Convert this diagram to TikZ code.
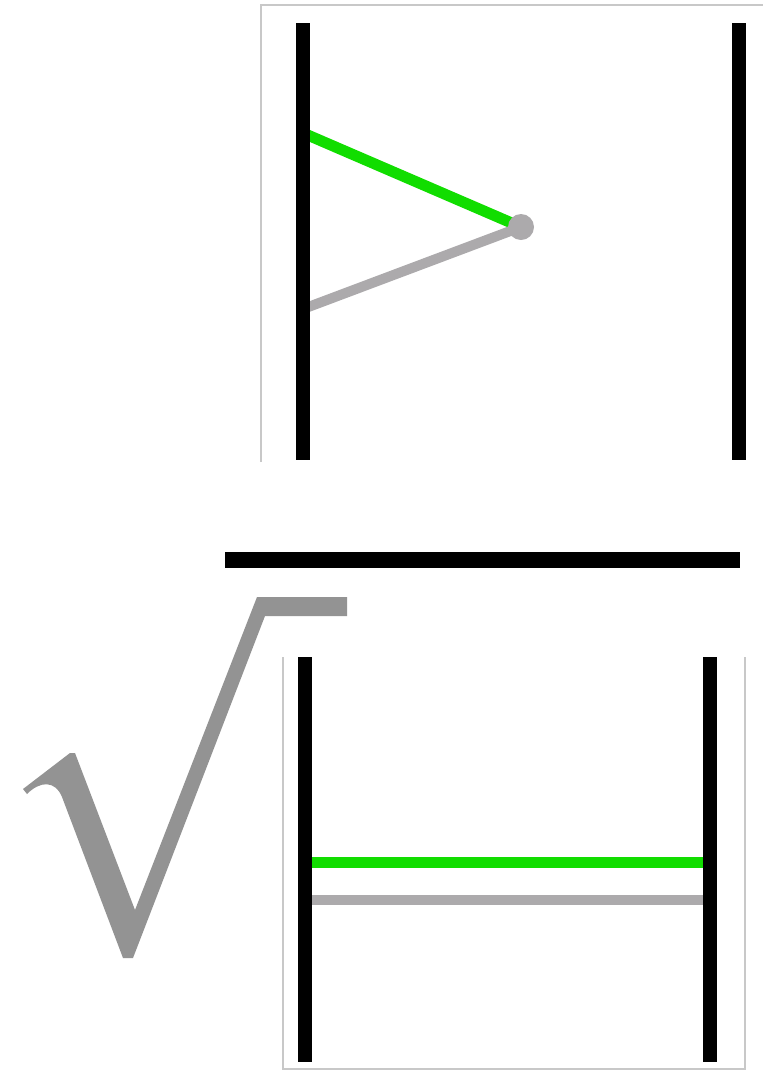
\documentclass[tikz,border=0pt]{standalone}
\usepackage{tikz}
\definecolor{strandgreen}{RGB}{17, 221, 0}
\definecolor{strandgray}{RGB}{172, 170, 172}
\definecolor{rootgray}{RGB}{147, 147, 147}
\definecolor{framegray}{RGB}{200, 200, 200}

\begin{document}
\begin{tikzpicture}[x=1pt, y=-1pt,
    rail/.style={line width=14pt, black},
    greenstrand/.style={line width=11pt, strandgreen},
    graystrand/.style={line width=10pt, strandgray},
    panel/.style={line width=1.2pt, framegray}]
    \useasboundingbox (0,0) rectangle (763,1072);

    % Top panel
    \draw[panel] (261,462) -- (261,5) -- (763,5);
    \coordinate (knot) at (521,227);
    \coordinate (topGreenL) at (303,133);
    \coordinate (topGrayL) at (303,309);
    \draw[greenstrand] (topGreenL) -- (knot);
    \draw[graystrand] (topGrayL) -- (knot);
    \fill[strandgray] (knot) circle (13pt);
    \draw[rail] (303,23) -- (303,460);
    \draw[rail] (739,23) -- (739,460);

    % Fraction bar
    \fill[black] (225,552) rectangle (740,568);

    % Root sign
    \fill[rootgray] (23,789) -- (70,753) -- (75,753) -- (135,910) -- (257,597)
        -- (347,597) -- (347,616) -- (265,616) -- (133,958) -- (123,958)
        -- (62,797) .. controls (55,780) and (40,781) .. (27,794) -- cycle;

    % Bottom panel
    \draw[panel] (283,657) -- (283,1069) -- (745,1069) -- (745,657);
    \coordinate (botGreenL) at (305,862);
    \coordinate (botGreenR) at (710,862);
    \coordinate (botGrayL) at (305,900);
    \coordinate (botGrayR) at (710,900);
    \draw[greenstrand] (botGreenL) -- (botGreenR);
    \draw[graystrand] (botGrayL) -- (botGrayR);
    \draw[rail] (305,657) -- (305,1062);
    \draw[rail] (710,657) -- (710,1062);
\end{tikzpicture}
\end{document}
